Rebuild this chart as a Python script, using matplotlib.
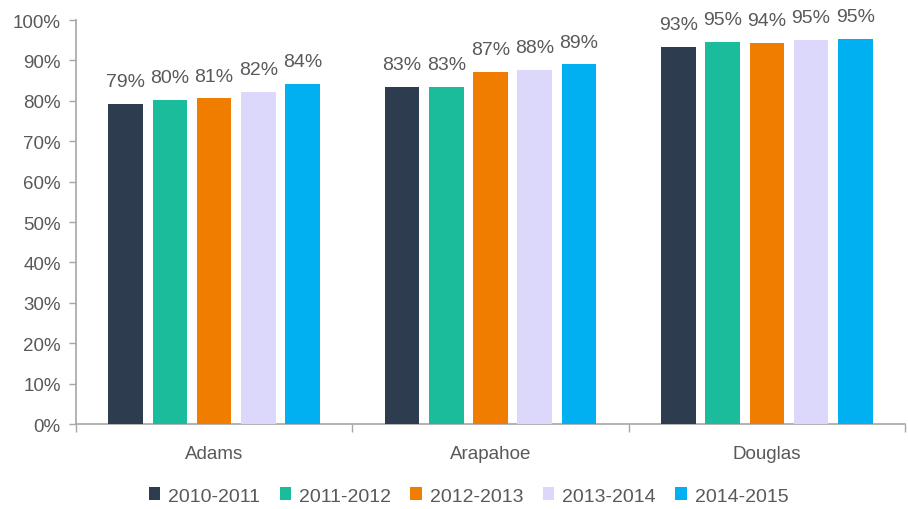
import numpy as np
import matplotlib.pyplot as plt
from matplotlib.ticker import FuncFormatter

counties = ["Adams", "Arapahoe", "Douglas"]
years = ["2010-2011", "2011-2012", "2012-2013", "2013-2014", "2014-2015"]
rates = [
    [79.2, 83.4, 93.4],
    [80.2, 83.4, 94.6],
    [80.6, 87.1, 94.4],
    [82.2, 87.6, 95.0],
    [84.1, 89.0, 95.4],
]
colors = ["#2e3c4f", "#1abc9c", "#f07c00", "#dcd8fc", "#00b0f0"]

plt.rcParams['font.family'] = ['Liberation Sans', 'DejaVu Sans']
text_color = "#595959"
axis_color = "#a6a6a6"

fig = plt.figure(figsize=(9.08, 5.10), dpi=100)
ax = fig.add_axes([76 / 908, 1 - 425 / 510, 829 / 908, 404 / 510])

x = np.arange(len(counties))
step = 0.16
width = 0.125
for i, (year, vals) in enumerate(zip(years, rates)):
    pos = x + (i - 2) * step
    bars = ax.bar(pos, vals, width, color=colors[i], label=year, zorder=3)
    for b, v in zip(bars, vals):
        ax.text(b.get_x() + b.get_width() / 2, v + 4.4, "%d%%" % round(v),
                ha="center", va="baseline", fontsize=14, color=text_color)

ax.set_xlim(-0.5, len(counties) - 0.5)
ax.set_ylim(0, 100)
ax.set_yticks(range(0, 101, 10))
ax.yaxis.set_major_formatter(FuncFormatter(lambda v, p: "%d%%" % v))
ax.set_xticks(x)
ax.set_xticklabels(counties)
ax.set_xticks(np.arange(-0.5, len(counties), 1), minor=True)
ax.tick_params(axis="x", which="major", length=0, pad=15, labelsize=13.5, labelcolor=text_color)
ax.tick_params(axis="x", which="minor", length=6, color=axis_color, width=1)
ax.tick_params(axis="y", length=5, color=axis_color, width=1, labelsize=13.5, labelcolor=text_color, pad=6)

for s in ["top", "right"]:
    ax.spines[s].set_visible(False)
for s in ["left", "bottom"]:
    ax.spines[s].set_color(axis_color)
    ax.spines[s].set_linewidth(1.2)

leg = fig.legend(loc="center", bbox_to_anchor=(0.516, 1 - 497 / 510), ncol=5, frameon=False,
                 handlelength=0.6, handleheight=0.6, handletextpad=0.4, columnspacing=1.0,
                 fontsize=14)
for t in leg.get_texts():
    t.set_color(text_color)

fig.savefig("out.png", dpi=100)
